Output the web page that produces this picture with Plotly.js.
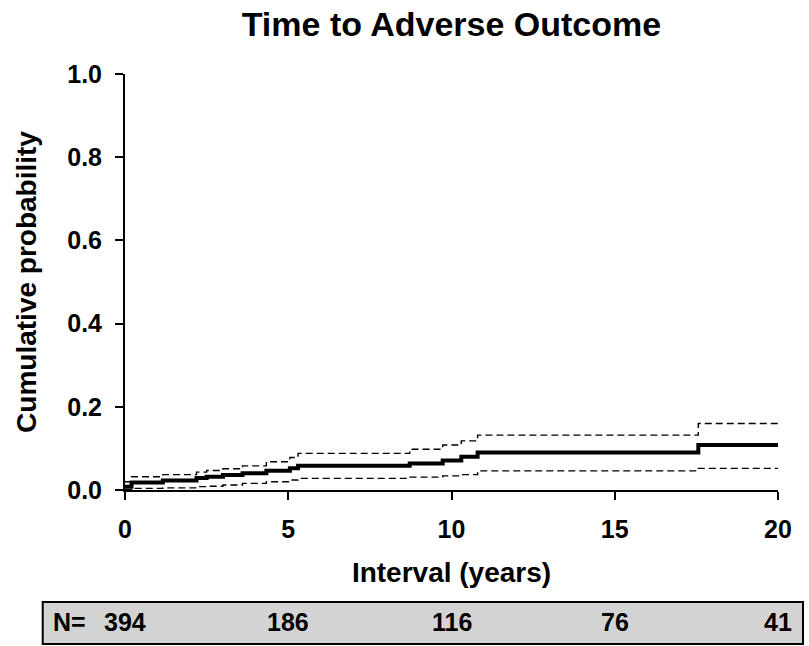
<!DOCTYPE html>
<html>
<head>
<meta charset="utf-8">
<script src="https://cdn.plot.ly/plotly-3.0.1.min.js"></script>
<style>html,body{margin:0;padding:0;background:#fff;}#chart{width:809px;height:646px;}</style>
</head>
<body>
<div id="chart"></div>
<script>
// Kaplan-Meier style cumulative probability
var times    = [0,     0.2,   1.16,  2.19,  2.5,   3.0,   3.6,   4.33,  5.05,  5.3,   8.72,  9.73,  10.3,  10.8,  17.56, 20];
var estimate = [0.008, 0.018, 0.023, 0.029, 0.032, 0.036, 0.040, 0.046, 0.052, 0.058, 0.064, 0.071, 0.080, 0.090, 0.108, 0.108];
var upperCI  = [0.020, 0.032, 0.037, 0.043, 0.047, 0.051, 0.058, 0.068, 0.078, 0.088, 0.098, 0.108, 0.118, 0.132, 0.160, 0.160];
var lowerCI  = [0.001, 0.004, 0.005, 0.008, 0.009, 0.012, 0.016, 0.020, 0.024, 0.028, 0.031, 0.034, 0.037, 0.046, 0.052, 0.052];

// Numbers at risk
var riskTimes = [0, 5, 10, 15, 20];
var riskN     = ["394", "186", "116", "76", "41"];

var xTicks = [0, 5, 10, 15, 20];
var yTicks = [0, 0.2, 0.4, 0.6, 0.8, 1.0];
var yTickLabels = ["0.0", "0.2", "0.4", "0.6", "0.8", "1.0"];

var FONT = "Arial, 'Liberation Sans', Helvetica, sans-serif";

var traces = [
  {x: times, y: upperCI, mode: "lines", line: {shape: "hv", color: "#000", width: 1.4, dash: "7px,4px"}, hoverinfo: "skip"},
  {x: times, y: lowerCI, mode: "lines", line: {shape: "hv", color: "#000", width: 1.4, dash: "7px,4px"}, hoverinfo: "skip"},
  {x: times, y: estimate, mode: "lines", line: {shape: "hv", color: "#000", width: 4}}
];

var annotations = riskTimes.map(function (t, i) {
  return {x: t, xref: "x", y: -0.3173, yref: "paper", text: "<b>" + riskN[i] + "</b>",
          showarrow: false, xanchor: "center", yanchor: "middle",
          font: {family: FONT, size: 25, color: "#000"}};
});
annotations.push({x: -0.113, xref: "paper", y: -0.3173, yref: "paper", text: "<b>N=</b>",
  showarrow: false, xanchor: "left", yanchor: "middle", font: {family: FONT, size: 25, color: "#000"}});

var layout = {
  width: 809, height: 646,
  margin: {l: 125, r: 31, t: 74, b: 156},
  paper_bgcolor: "#fff", plot_bgcolor: "#fff",
  showlegend: false,
  title: {text: "<b>Time to Adverse Outcome</b>", x: 0.558, xref: "container", xanchor: "center",
          y: 1 - 24 / 646, yref: "container", yanchor: "middle",
          font: {family: FONT, size: 34, color: "#000"}},
  xaxis: {
    range: [0, 20], autorange: false, fixedrange: true,
    tickmode: "array", tickvals: xTicks, ticktext: xTicks.map(function (v) { return "<b>" + v + "</b>"; }),
    ticks: "outside", ticklen: 8, tickwidth: 2, tickcolor: "#000",
    showline: true, linecolor: "#000", linewidth: 2, showgrid: false, zeroline: false,
    tickfont: {family: FONT, size: 25, color: "#000"}, ticklabelstandoff: 8,
    title: {text: "<b>Interval (years)</b>", font: {family: FONT, size: 28, color: "#000"}, standoff: 20}
  },
  yaxis: {
    range: [0, 1], autorange: false, fixedrange: true,
    tickmode: "array", tickvals: yTicks, ticktext: yTickLabels.map(function (v) { return "<b>" + v + "</b>"; }),
    ticks: "outside", ticklen: 8, tickwidth: 2, tickcolor: "#000",
    showline: true, linecolor: "#000", linewidth: 2, showgrid: false, zeroline: false,
    tickfont: {family: FONT, size: 25, color: "#000"}, ticklabelstandoff: 8,
    title: {text: "<b>Cumulative probability</b>", font: {family: FONT, size: 28, color: "#000"}, standoff: 22}
  },
  shapes: [
    {type: "rect", xref: "paper", yref: "paper", x0: -0.126, x1: 1.0383, y0: -0.269, y1: -0.370,
     fillcolor: "#d3d3d3", line: {color: "#000", width: 2}, layer: "below"}
  ],
  annotations: annotations
};

Plotly.newPlot("chart", traces, layout, {displayModeBar: false, staticPlot: true});
</script>
</body>
</html>
